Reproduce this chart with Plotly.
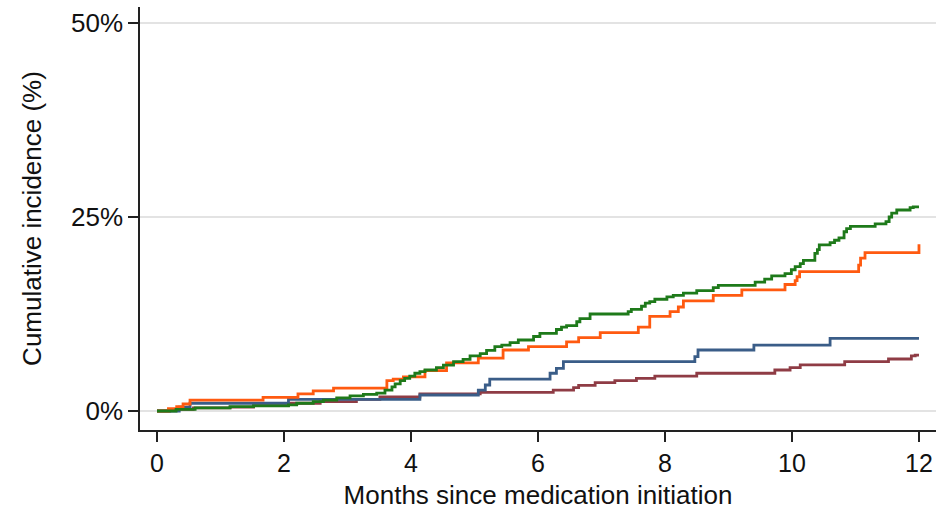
import plotly.graph_objects as go

# Step-function data (months, cumulative incidence %)
green_t = [0, 0.3, 0.6, 1.15, 1.52, 2.07, 2.2, 2.46, 2.62, 2.83,
           3.04, 3.25, 3.46, 3.59, 3.7, 3.75, 3.83, 3.9, 3.98, 4.06,
           4.14, 4.22, 4.4, 4.51, 4.67, 4.82, 4.93, 5.09, 5.19, 5.32,
           5.43, 5.56, 5.69, 5.93, 6.03, 6.29, 6.37, 6.45, 6.61, 6.66,
           6.82, 7.42, 7.47, 7.63, 7.69, 7.76, 7.84, 8.03, 8.13, 8.29,
           8.5, 8.76, 8.84, 9.42, 9.57, 9.68, 9.89, 9.99, 10.05, 10.13,
           10.18, 10.36, 10.4, 10.43, 10.6, 10.67, 10.74, 10.82, 10.86, 10.92,
           11.31, 11.48, 11.53, 11.57, 11.65, 11.86, 11.91, 12.0]
green_v = [0, 0.2, 0.4, 0.55, 0.65, 0.8, 1.0, 1.2, 1.4, 1.7,
           1.95, 2.15, 2.3, 2.7, 3.1, 3.5, 3.9, 4.2, 4.5, 4.86,
           5.06, 5.28, 5.58, 5.9, 6.36, 6.66, 7.1, 7.4, 7.8, 8.3,
           8.5, 8.8, 9.15, 9.6, 10.0, 10.5, 10.8, 11.0, 11.5, 11.9,
           12.5, 12.8, 13.1, 13.5, 13.9, 14.1, 14.4, 14.7, 14.9, 15.2,
           15.5, 15.9, 16.2, 16.6, 17.0, 17.4, 17.7, 18.2, 18.6, 19.0,
           19.4, 20.3, 20.8, 21.4, 21.7, 22.0, 22.3, 23.1, 23.5, 23.8,
           24.1, 24.4, 25.0, 25.5, 25.9, 26.2, 26.3, 26.3]

orange_t = [0, 0.18, 0.31, 0.41, 0.52, 1.67, 2.22, 2.46, 2.78, 3.62,
            3.72, 3.88, 4.22, 4.56, 5.06, 5.45, 5.85, 6.45, 6.64, 6.98,
            7.58, 7.76, 8.08, 8.21, 8.29, 8.76, 9.21, 9.89, 10.05, 10.08,
            10.12, 11.05, 11.08, 11.15, 12.0, 12.0]
orange_v = [0, 0.3, 0.55, 0.9, 1.4, 1.76, 2.2, 2.6, 2.95, 3.9,
            4.1, 4.4, 5.2, 6.2, 6.8, 7.86, 8.3, 8.9, 9.45, 10.1,
            10.8, 12.2, 12.8, 13.4, 14.2, 14.9, 15.6, 16.3, 16.8, 17.3,
            17.95, 18.8, 19.7, 20.4, 20.4, 21.5]

blue_t = [0, 0.35, 0.52, 2.07, 4.14, 5.06, 5.17, 5.24, 6.19, 6.29,
          6.4, 8.47, 8.52, 9.4, 10.6, 12.0]
blue_v = [0, 0.5, 1.0, 1.5, 2.06, 2.7, 3.35, 4.1, 4.86, 5.5,
          6.36, 7.0, 7.86, 8.5, 9.37, 9.37]

maroon_t = [0, 0.2, 0.57, 1.15, 1.52, 2.07, 2.57, 3.14, 3.51, 4.14,
            5.09, 6.24, 6.56, 6.64, 6.9, 7.21, 7.55, 7.84, 8.5, 9.73,
            9.97, 10.13, 10.83, 11.52, 11.88, 11.94, 12.0]
maroon_v = [0, 0.2, 0.4, 0.5, 0.7, 1.0, 1.2, 1.5, 1.8, 2.2,
            2.4, 2.7, 3.0, 3.3, 3.65, 3.9, 4.2, 4.5, 4.86, 5.28,
            5.58, 5.93, 6.36, 6.7, 7.09, 7.2, 7.2]

x_ticks = [0, 2, 4, 6, 8, 10, 12]
y_ticks = [0, 25, 50]
y_tick_labels = ["0%", "25%", "50%"]

series = [
    ("Maroon", maroon_t, maroon_v, "#8f3c45"),
    ("Blue", blue_t, blue_v, "#3a5d88"),
    ("Orange", orange_t, orange_v, "#ff5a10"),
    ("Green", green_t, green_v, "#1e7a1a"),
]

fig = go.Figure()
for name, t, v, c in series:
    fig.add_trace(go.Scatter(x=t, y=v, mode="lines", name=name,
                             line=dict(color=c, width=2.8, shape="hv"),
                             showlegend=False))

font = "Liberation Sans, Arial, sans-serif"
fig.update_layout(
    width=938, height=510,
    margin=dict(l=140, r=2, t=7, b=80),
    paper_bgcolor="white", plot_bgcolor="white",
    font=dict(family=font, size=26, color="#111111"),
)
fig.update_xaxes(
    range=[-0.268, 12.268], tickvals=x_ticks, ticktext=[str(v) for v in x_ticks],
    showline=True, linecolor="#222222", linewidth=1.5,
    ticks="outside", ticklen=10, tickwidth=1.5, tickcolor="#222222",
    showgrid=False, zeroline=False,
    title=dict(text="Months since medication initiation", standoff=10,
               font=dict(size=26)),
    tickfont=dict(size=25),
)
fig.update_yaxes(
    range=[-2.45, 52.06], tickvals=y_ticks, ticktext=y_tick_labels,
    showline=True, linecolor="#222222", linewidth=1.5,
    ticks="outside", ticklen=10, tickwidth=1.5, tickcolor="#222222",
    showgrid=True, gridcolor="#e3e3e3", gridwidth=1.5, zeroline=False,
    title=dict(text="Cumulative incidence (%)", standoff=22,
               font=dict(size=26)),
    tickfont=dict(size=26),
)

fig.write_html("out.html")
